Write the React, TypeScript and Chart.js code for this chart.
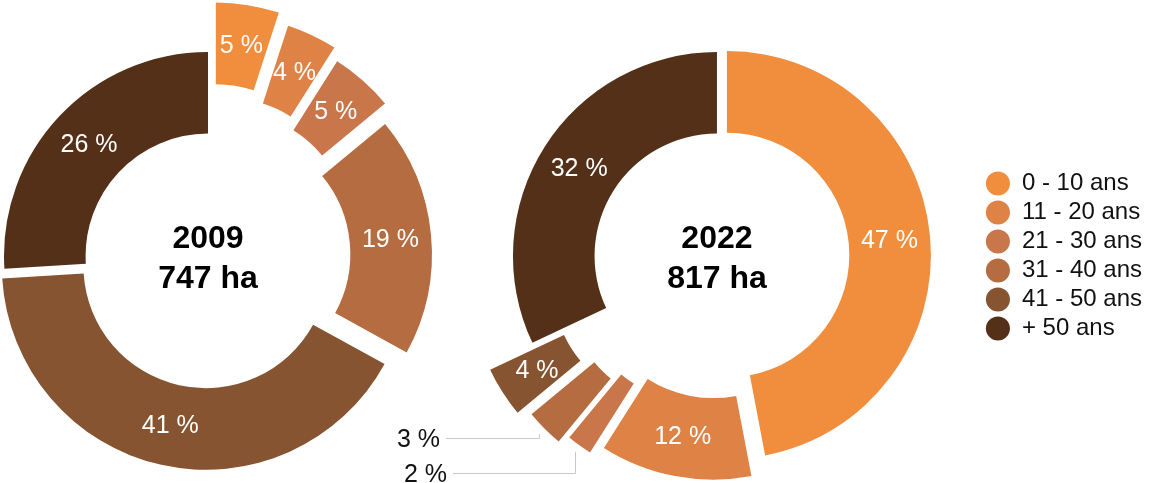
import React, { useEffect, useRef } from 'react';
import { Chart, ArcElement, registerables } from 'chart.js';

Chart.register(...registerables);

const FONT = "'Liberation Sans', 'Helvetica Neue', Arial, sans-serif";

// ---- data ----
const categories = ['0 - 10 ans', '11 - 20 ans', '21 - 30 ans', '31 - 40 ans', '41 - 50 ans', '+ 50 ans'];
const shares2009 = [5, 4, 5, 19, 41, 26];
const shares2022 = [47, 12, 2, 3, 4, 32];
const title2009 = ['2009', '747 ha'];
const title2022 = ['2022', '817 ha'];

// ---- styles ----
const colors = ['#F08E3E', '#DE8246', '#C8764A', '#B46C40', '#865430', '#543018'];
const explode2009 = [50, 40, 30, 20, 10, 0];
const explode2022 = [10, 20, 30, 40, 50, 0];
// callout placement (relative to the doughnut centre) for slices too thin to hold a label
const callouts2022: Record<number, { dx: number; dy: number }> = {
  2: { dx: -264, dy: 217 },
  3: { dx: -271, dy: 182 },
};

// Pure translation of exploded slices
const explodePlugin = {
  id: 'explodeSlices',
  afterDatasetUpdate(chart: any, args: any) {
    const ds = chart.data.datasets[args.index];
    const shifts: number[] = ds.explode || [];
    args.meta.data.forEach((el: any, i: number) => {
      const d = shifts[i] || 0;
      el.draw = function (ctx: CanvasRenderingContext2D) {
        const half = (this.startAngle + this.endAngle) / 2;
        ctx.save();
        ctx.translate(Math.cos(half) * d, Math.sin(half) * d);
        ArcElement.prototype.draw.call(this, ctx);
        ctx.restore();
      };
    });
  },
};

const labelPlugin = {
  id: 'sliceLabels',
  afterDatasetsDraw(chart: any, _args: any, opts: any) {
    const ctx: CanvasRenderingContext2D = chart.ctx;
    const meta = chart.getDatasetMeta(0);
    const ds = chart.data.datasets[0];
    const shifts: number[] = ds.explode || [];
    const outside = (opts && opts.outside) || {};
    ctx.save();
    ctx.font = `25px ${FONT}`;
    meta.data.forEach((el: any, i: number) => {
      const { x, y, startAngle, endAngle, innerRadius, outerRadius } = el;
      const mid = (startAngle + endAngle) / 2;
      const d = shifts[i] || 0;
      const text = `${ds.data[i]} %`;
      const co = outside[i];
      if (!co) {
        const r = (innerRadius + outerRadius) / 2 + d;
        ctx.fillStyle = '#ffffff';
        ctx.textAlign = 'center';
        ctx.textBaseline = 'middle';
        ctx.fillText(text, x + Math.cos(mid) * r, y + Math.sin(mid) * r + 1);
      } else {
        const r = outerRadius + d + 8;
        const ax = Math.round(x + Math.cos(mid) * r) + 0.5;
        const ay = y + Math.sin(mid) * r;
        const lx = x + co.dx;
        const ly = Math.round(y + co.dy) + 0.5;
        ctx.strokeStyle = '#c9c9c9';
        ctx.lineWidth = 1;
        ctx.beginPath();
        ctx.moveTo(ax, ay);
        ctx.lineTo(ax, ly);
        ctx.lineTo(lx, ly);
        ctx.stroke();
        ctx.fillStyle = '#111111';
        ctx.textAlign = 'right';
        ctx.textBaseline = 'middle';
        ctx.fillText(text, lx - 6, ly + 2);
      }
    });
    ctx.restore();
  },
};

const centerPlugin = {
  id: 'centerText',
  afterDraw(chart: any, _args: any, opts: any) {
    const lines: string[] = (opts && opts.lines) || [];
    const meta = chart.getDatasetMeta(0);
    const el = meta.data[0];
    if (!el) return;
    const ctx: CanvasRenderingContext2D = chart.ctx;
    ctx.save();
    ctx.font = `bold 32px ${FONT}`;
    ctx.fillStyle = '#000000';
    ctx.textAlign = 'center';
    ctx.textBaseline = 'alphabetic';
    if (lines[0]) ctx.fillText(lines[0], el.x, el.y - 8);
    if (lines[1]) ctx.fillText(lines[1], el.x, el.y + 32);
    ctx.restore();
  },
};

interface DonutProps {
  left: number;
  width: number;
  pad: { left: number; right: number; top: number; bottom: number };
  values: number[];
  explode: number[];
  title: string[];
  legend: boolean;
  outside?: Record<number, { dx: number; dy: number }>;
}

function Donut({ left, width, pad, values, explode, title, legend, outside }: DonutProps) {
  const ref = useRef<HTMLCanvasElement>(null);
  useEffect(() => {
    const chart = new Chart(ref.current as HTMLCanvasElement, {
      type: 'doughnut',
      data: {
        labels: categories,
        datasets: [
          {
            data: values,
            backgroundColor: colors,
            borderWidth: 0,
            clip: false,
            explode,
          } as any,
        ],
      },
      options: {
        responsive: false,
        animation: false,
        events: [],
        radius: 204,
        cutout: '60%',
        layout: { padding: pad },
        plugins: {
          legend: legend
            ? {
                display: true,
                position: 'right',
                align: 'center',
                labels: {
                  usePointStyle: true,
                  pointStyle: 'circle',
                  boxWidth: 24,
                  boxHeight: 17,
                  padding: 5,
                  color: '#111111',
                  font: { size: 24, family: FONT },
                },
              }
            : { display: false },
          tooltip: { enabled: false },
          sliceLabels: { outside: outside || {} },
          centerText: { lines: title },
        } as any,
      } as any,
      plugins: [explodePlugin, labelPlugin, centerPlugin],
    });
    return () => chart.destroy();
  }, []);
  return (
    <canvas
      ref={ref}
      width={width}
      height={483}
      style={{ position: 'absolute', left, top: 0, width, height: 483 }}
    />
  );
}

export default function App() {
  return (
    <div
      style={{
        position: 'fixed',
        left: 0,
        top: 0,
        width: 1149,
        height: 483,
        overflow: 'hidden',
        background: '#ffffff',
      }}
    >
      <Donut
        left={0}
        width={470}
        pad={{ left: 0, right: 54, top: 29, bottom: 0 }}
        values={shares2009}
        explode={explode2009}
        title={title2009}
        legend={false}
      />
      <Donut
        left={380}
        width={772}
        pad={{ left: 73, right: 0, top: 29, bottom: 0 }}
        values={shares2022}
        explode={explode2022}
        title={title2022}
        legend={true}
        outside={callouts2022}
      />
    </div>
  );
}
